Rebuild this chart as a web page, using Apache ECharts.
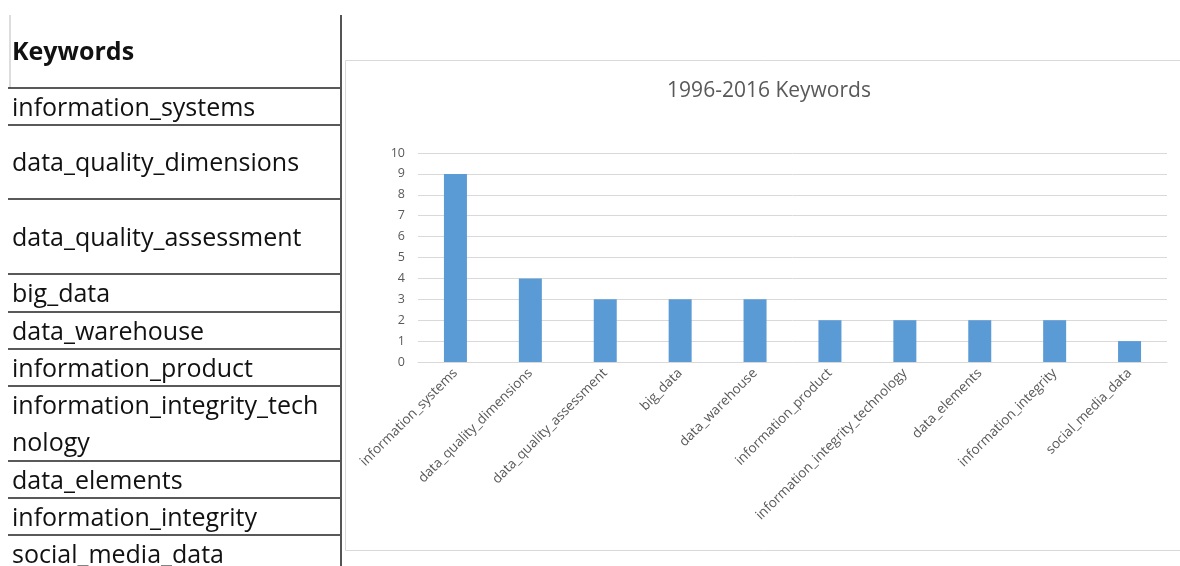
<!DOCTYPE html>
<html>
<head>
<meta charset="utf-8">
<title>1996-2016 Keywords</title>
<script src="https://cdn.jsdelivr.net/npm/echarts@6/dist/echarts.min.js"></script>
<style>
  html, body { margin: 0; padding: 0; background: #fff; }
  #chart { width: 1180px; height: 566px; }
</style>
</head>
<body>
<div id="chart"></div>
<script>
// data
var titleText = '1996-2016 Keywords';
var tableHeader = 'Keywords';
var categories = ['information_systems', 'data_quality_dimensions', 'data_quality_assessment', 'big_data',
  'data_warehouse', 'information_product', 'information_integrity_technology', 'data_elements',
  'information_integrity', 'social_media_data'];
var counts = [9, 4, 3, 3, 3, 2, 2, 2, 2, 1];
var yTicks = [0, 1, 2, 3, 4, 5, 6, 7, 8, 9, 10];

// table row borders (pixel layout of the left table)
var rowLines = [88, 125, 199, 274, 312, 349, 386, 461, 498, 535, 572];

var myChart = echarts.init(document.getElementById('chart'));

function buildTable() {
  var els = [];
  // header
  els.push({
    type: 'text', x: 12, y: 53,
    style: { text: tableHeader, font: 'bold 25px "Open Sans"', fill: '#111', verticalAlign: 'middle' }
  });
  // left border of header cell
  els.push({ type: 'line', shape: { x1: 10, y1: 15, x2: 10, y2: rowLines[0] }, style: { stroke: '#bbb', lineWidth: 1 } });
  els.push({ type: 'line', shape: { x1: 8, y1: rowLines[0], x2: 341, y2: rowLines[0] }, style: { stroke: '#222', lineWidth: 1.5 } });
  for (var i = 0; i < categories.length; i++) {
    var top = rowLines[i], bottom = rowLines[i + 1];
    els.push({
      type: 'text',
      x: 12, y: (top + bottom) / 2 + 2,
      style: {
        text: categories[i], font: '25px "Open Sans"', fill: '#111',
        width: 318, overflow: 'breakAll', lineHeight: 37,
        verticalAlign: 'middle', align: 'left'
      }
    });
    els.push({ type: 'line', shape: { x1: 8, y1: bottom, x2: 341, y2: bottom }, style: { stroke: '#222', lineWidth: 1.5 } });
  }
  // thick right border of the table
  els.push({ type: 'line', shape: { x1: 341, y1: 15, x2: 341, y2: 566 }, style: { stroke: '#555', lineWidth: 2 } });
  // chart area border
  els.push({ type: 'rect', shape: { x: 345.5, y: 60.5, width: 850, height: 490 }, style: { fill: null, stroke: '#d9d9d9', lineWidth: 1 } });
  return els;
}

var option = {
  animation: false,
  title: {
    text: titleText,
    left: 764, top: 76,
    textAlign: 'center',
    textStyle: { fontFamily: 'Open Sans', fontSize: 21, fontWeight: 'normal', color: '#595959' }
  },
  grid: { left: 418, right: 13, top: 153, bottom: 204, containLabel: false },
  xAxis: {
    type: 'category',
    data: categories,
    axisLine: { show: true, lineStyle: { color: '#d9d9d9' } },
    axisTick: { show: false },
    axisLabel: {
      rotate: 45, interval: 0, margin: 9,
      fontFamily: 'Open Sans', fontSize: 13.5, color: '#595959'
    }
  },
  yAxis: {
    type: 'value',
    min: yTicks[0], max: yTicks[yTicks.length - 1], interval: 1,
    axisLine: { show: false },
    axisTick: { show: false },
    splitLine: { lineStyle: { color: '#d9d9d9' } },
    axisLabel: { margin: 13, fontFamily: 'Open Sans', fontSize: 12.5, color: '#595959' }
  },
  series: [{
    type: 'bar',
    data: counts,
    barWidth: 23,
    itemStyle: { color: '#5b9bd5' }
  }],
  graphic: buildTable()
};

myChart.setOption(option);
</script>
</body>
</html>
